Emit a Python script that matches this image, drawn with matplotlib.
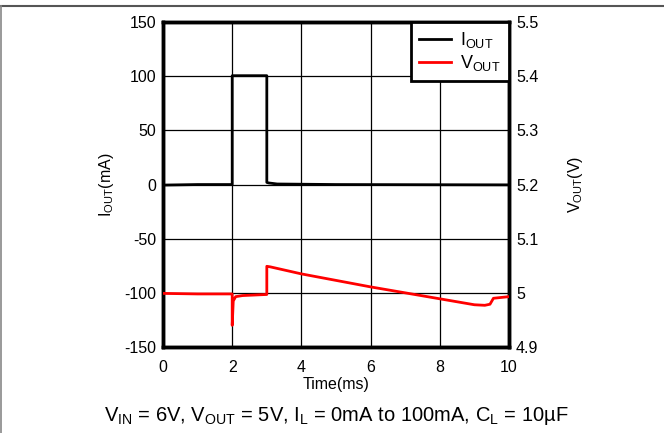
import numpy as np
import matplotlib.pyplot as plt
from matplotlib.lines import Line2D

plt.rcParams['font.family'] = ['Liberation Sans', 'DejaVu Sans']
plt.rcParams['mathtext.fontset'] = 'custom'
plt.rcParams['mathtext.rm'] = 'Liberation Sans'
plt.rcParams['axes.unicode_minus'] = False

# load current step (mA)
t_iout = [0, 1.0, 2.0, 2.0, 3.0, 3.0, 3.05, 3.3, 5.0, 10]
iout = [-0.5, 0.0, 0.0, 100.5, 100.5, 2.0, 1.5, 0.5, 0.0, -0.3]

# output voltage (V)
t_vout = [0, 1.0, 2.0, 2.0, 2.03, 2.1, 2.3, 3.0, 3.0, 3.1, 4.0, 6.0, 8.0,
          9.0, 9.3, 9.45, 9.55, 10]
vout = [4.999, 4.998, 4.998, 4.94, 4.985, 4.993, 4.995, 4.997, 5.049, 5.048,
        5.035, 5.011, 4.989, 4.978, 4.977, 4.979, 4.990, 4.993]

x_ticks = [0, 2, 4, 6, 8, 10]
i_ticks = [-150, -100, -50, 0, 50, 100, 150]
v_ticks = [4.9, 5.0, 5.1, 5.2, 5.3, 5.4, 5.5]
v_labels = ['4.9', '5', '5.1', '5.2', '5.3', '5.4', '5.5']

fig = plt.figure(figsize=(6.64, 4.33), dpi=100)
ax = fig.add_axes([0.2455, 0.1986, 0.5211, 0.7504])
ax2 = ax.twinx()

ax.set_xlim(0, 10)
ax.set_ylim(-150, 150)
ax2.set_ylim(4.9, 5.5)
ax.set_xticks(x_ticks)
ax.set_yticks(i_ticks)
ax2.set_yticks(v_ticks)
ax2.set_yticklabels(v_labels)
ax.grid(True, color='black', lw=0.9)
ax.set_axisbelow(True)

l1, = ax.plot(t_iout, iout, color='black', lw=2, zorder=3)
l2, = ax2.plot(t_vout, vout, color='#ff0000', lw=2, zorder=3)

for a in (ax, ax2):
    a.tick_params(length=0, labelsize=11.5, pad=5)
    for s in a.spines.values():
        s.set_linewidth(2.5)
ax.tick_params(axis='x', pad=9)

ax.set_xlabel('Time(ms)', fontsize=11.5, labelpad=2)
ax.set_ylabel(r'I$_{\mathregular{OUT}}$(mA)', fontsize=11.5, labelpad=6)
ax2.set_ylabel(r'V$_{\mathregular{OUT}}$(V)', fontsize=11.5, labelpad=20)

leg = ax2.legend([l1, l2], [r'I$_{\mathregular{OUT}}$', r'V$_{\mathregular{OUT}}$'],
                 loc='upper right', fontsize=13, fancybox=False,
                 framealpha=1, borderaxespad=0, handlelength=1.8,
                 labelspacing=0.15, borderpad=0.45, handletextpad=0.5)
leg.get_frame().set_edgecolor('black')
leg.get_frame().set_linewidth(2)

fig.text(0.507, 0.04,
         r'V$_{\mathregular{IN}}$ = 6V, V$_{\mathregular{OUT}}$ = 5V, '
         r'I$_{\mathregular{L}}$ = 0mA to 100mA, C$_{\mathregular{L}}$ = 10µF',
         ha='center', va='center', fontsize=14.5)

fig.add_artist(Line2D([0, 1], [0.985, 0.985], color='#555555', lw=1.5,
                      transform=fig.transFigure))
fig.add_artist(Line2D([0.001, 0.001], [0, 0.985], color='#888888', lw=1.2,
                      transform=fig.transFigure))

fig.savefig('out.png', dpi=100)
